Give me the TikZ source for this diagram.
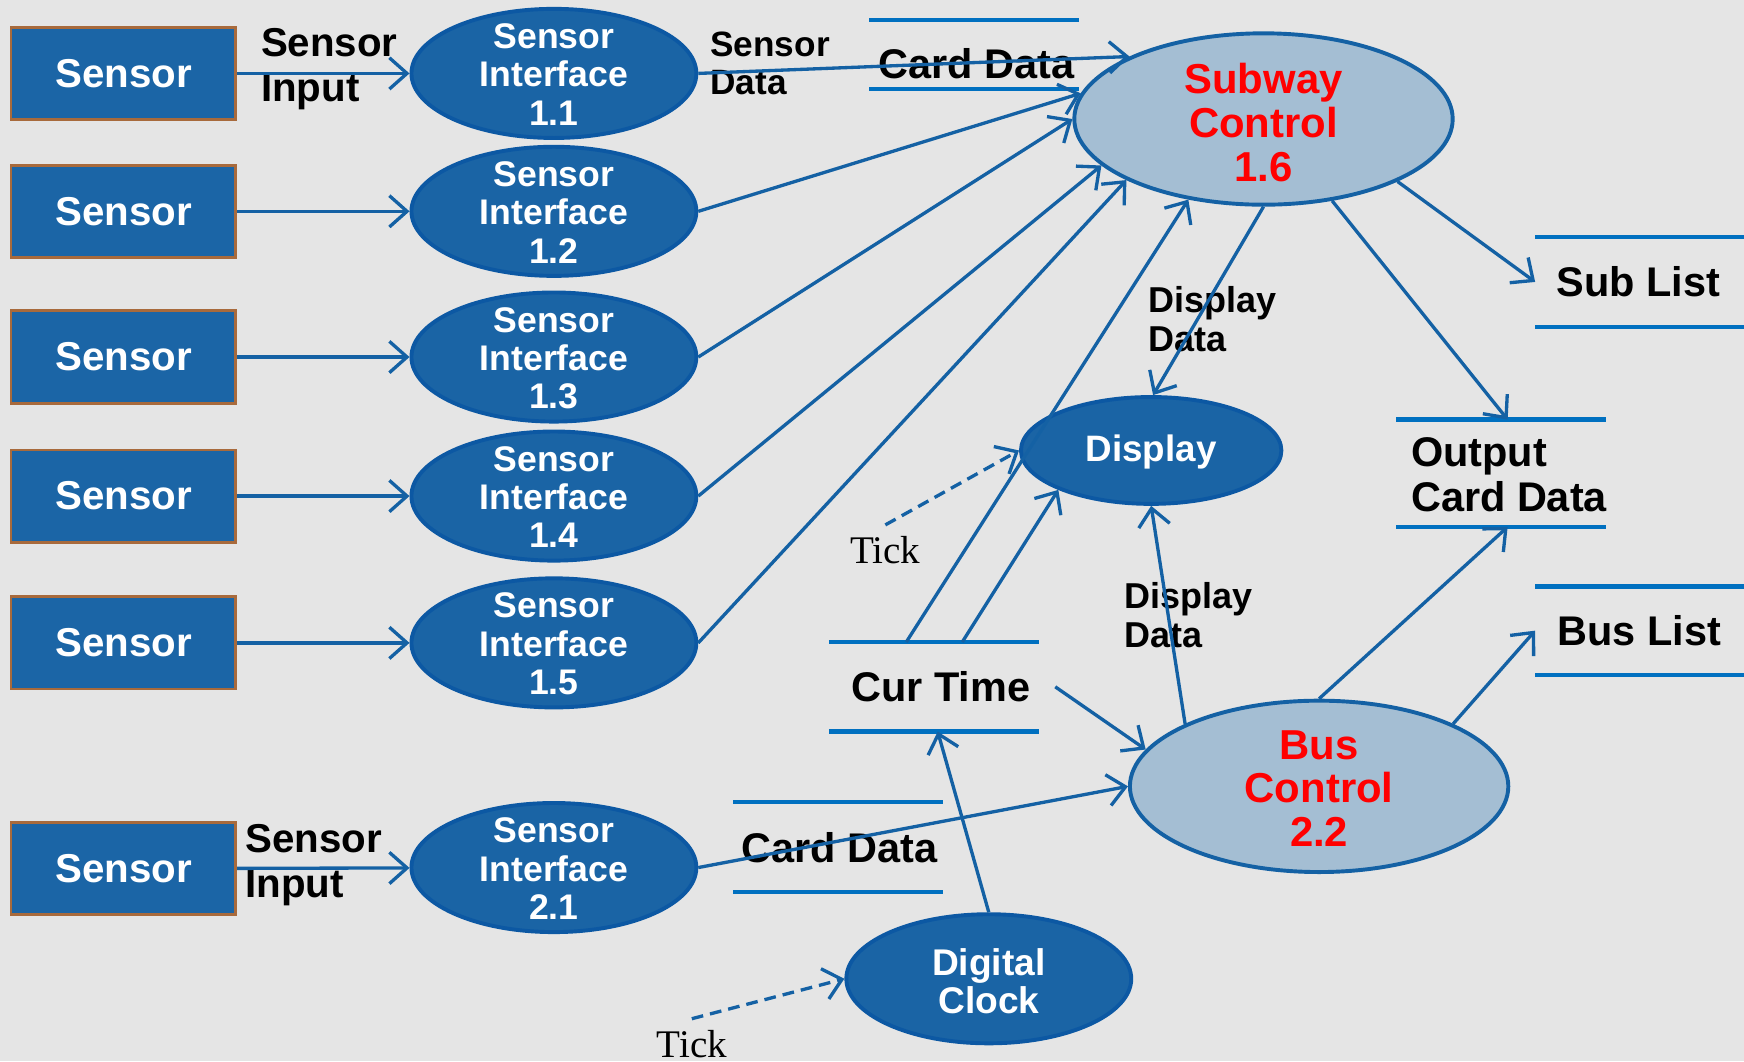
\documentclass[tikz,border=0pt]{standalone}
\usepackage{fontspec}
\setmainfont{Liberation Sans}
\newfontfamily\seriffont{Liberation Serif}
\usetikzlibrary{shapes.geometric,arrows.meta,calc}
\definecolor{bg}{RGB}{229,229,229}
\definecolor{boxblue}{RGB}{27,101,166}
\definecolor{boxedge}{RGB}{168,106,60}
\definecolor{ellblue}{RGB}{26,100,165}
\definecolor{elledge}{RGB}{12,88,163}
\definecolor{lightell}{RGB}{164,190,211}
\definecolor{linkblue}{RGB}{20,97,164}
\definecolor{storeblue}{RGB}{0,112,192}
\definecolor{redtext}{RGB}{255,0,0}
\begin{document}
\begin{tikzpicture}[x=0.01cm,y=-0.01cm,
  sensorbox/.style={draw=boxedge, line width=0.7pt, fill=boxblue, minimum width=2.02cm, minimum height=0.83cm, inner sep=0pt, text=white, font=\bfseries\fontsize{10.3}{12}\selectfont},
  proc/.style={ellipse, draw=elledge, line width=1pt, fill=ellblue, inner sep=0pt, minimum width=2.56cm, minimum height=1.16cm},
  bigproc/.style={ellipse, draw=linkblue, line width=1pt, fill=lightell, inner sep=0pt, minimum width=3.4cm, minimum height=1.54cm},
  proctext/.style={text=white, font=\bfseries\fontsize{9.1}{9.8}\selectfont, align=center, inner sep=0pt},
  redtxt/.style={text=redtext, font=\bfseries\fontsize{10.7}{11.2}\selectfont, align=center, inner sep=0pt},
  store/.style={inner sep=0pt, minimum width=1.87cm, minimum height=0.79cm},
  storeline/.style={draw=storeblue, line width=1.1pt},
  storetxt/.style={inner sep=0pt, font=\bfseries\fontsize{10.6}{11.4}\selectfont},
  flowtxt/.style={inner sep=0pt, anchor=west, align=left, font=\bfseries\fontsize{10.3}{11.4}\selectfont},
  smallflow/.style={inner sep=0pt, anchor=west, align=left, font=\bfseries\fontsize{9.2}{9.9}\selectfont},
  ticktxt/.style={inner sep=0pt, font=\seriffont\fontsize{10}{12}\selectfont},
  link/.style={draw=linkblue, line width=0.85pt, -{Straight Barb[length=4.5pt,width=8pt]}},
  tickline/.style={link, dash pattern=on 3pt off 1.8pt}
]
\fill[bg] (0,0) rectangle (1568,954);
\useasboundingbox (0,0) rectangle (1568,954);

% sensor boxes
\node[sensorbox] (b1) at (111,66) {Sensor};
\node[sensorbox] (b2) at (111,190) {Sensor};
\node[sensorbox] (b3) at (111,321) {Sensor};
\node[sensorbox] (b4) at (111,446) {Sensor};
\node[sensorbox] (b5) at (111,578) {Sensor};
\node[sensorbox] (b6) at (111,781) {Sensor};

% sensor interfaces
\node[proc] (s1) at (498,66) {};
\node[proc] (s2) at (498,190) {};
\node[proc] (s3) at (498,321) {};
\node[proc] (s4) at (498,446) {};
\node[proc] (s5) at (498,578) {};
\node[proc] (s6) at (498,780) {};
\node[proctext] (s1t) at (498,67) {Sensor\\Interface\\1.1};
\node[proctext] (s2t) at (498,191) {Sensor\\Interface\\1.2};
\node[proctext] (s3t) at (498,322) {Sensor\\Interface\\1.3};
\node[proctext] (s4t) at (498,447) {Sensor\\Interface\\1.4};
\node[proctext] (s5t) at (498,579) {Sensor\\Interface\\1.5};
\node[proctext] (s6t) at (498,781) {Sensor\\Interface\\2.1};

% control processes
\node[bigproc] (sc) at (1136,107) {};
\node[redtxt] (sct) at (1136,110) {Subway\\Control\\1.6};
\node[bigproc] (bc) at (1186,707) {};
\node[redtxt] (bct) at (1186,709) {Bus\\Control\\2.2};
\node[proc, minimum width=2.34cm, minimum height=0.96cm] (disp) at (1035,405) {};
\node[proctext, font=\bfseries\fontsize{9.4}{10}\selectfont] (dispt) at (1035,406) {Display};
\node[proc] (dc) at (889,880) {};
\node[proctext, font=\bfseries\fontsize{9.5}{9.7}\selectfont] (dct) at (889,882) {Digital\\Clock};

% data stores
\node[store, minimum height=0.6cm] (cd1) at (876,49) {};
\node[storetxt] (cd1t) at (878,57) {Card Data};
\node[store] (sl) at (1474.5,253.5) {};
\node[storetxt] (slt) at (1473,253) {Sub List};
\node[store, minimum height=0.95cm] (oc) at (1349.5,425.5) {};
\node[storetxt, anchor=west, align=left] (oct) at (1268,427) {Output\\Card Data};
\node[store, minimum height=0.78cm] (bl) at (1474.5,567) {};
\node[storetxt] (blt) at (1474,567) {Bus List};
\node[store] (ct) at (839.5,617.5) {};
\node[storetxt] (ctt) at (846,617) {Cur Time};
\node[store] (cd2) at (753.5,761.5) {};
\node[storetxt] (cd2t) at (755,762) {Card Data};
\foreach \s in {cd1,sl,oc,bl,ct,cd2}
  \draw[storeline] (\s.north west) -- (\s.north east) (\s.south west) -- (\s.south east);

% flow labels
\node[flowtxt] (si1) at (234,62) {Sensor\\Input};
\node[flowtxt] (si2) at (220,778) {Sensor\\Input};
\node[smallflow, font=\bfseries\fontsize{9}{9.7}\selectfont] (sd) at (638,57) {Sensor\\Data};
\node[smallflow] (dd1) at (1032,287) {Display\\Data};
\node[smallflow] (dd2) at (1010,553) {Display\\Data};
\node[ticktxt] (tk1) at (796,495) {Tick};
\node[ticktxt] (tk2) at (622,939) {Tick};

% connectors
\foreach \i in {1,...,6} \draw[link] (b\i) -- (s\i);
\draw[link] (s1.east) -- (sc.155);
\draw[link] (s2.east) -- (sc.172);
\draw[link] (s3.east) -- (sc.180);
\draw[link] (s4.east) -- (sc.196);
\draw[link] (s5.east) -- (sc.204);
\draw[link] ($(ct.north west)!0.369!(ct.north east)$) -- (sc.227);
\draw[link] ($(ct.north west)!0.636!(ct.north east)$) -- (disp.203);
\draw[link] (sc.270) -- (disp.88);
\draw[link] (sc.310) -- ([xshift=0.06cm]oc.north);
\draw[link] (sc.335) -- (sl.west);
\draw[link] (bc.155) -- (disp.south);
\draw[link] (bc.90) -- ([xshift=0.06cm]oc.south);
\draw[link] (bc.25) -- (bl.west);
\draw[link] ([xshift=0.15cm]ct.east) -- (bc.168);
\draw[link] (s6.east) -- (bc.180);
\draw[link] (dc.north) -- ($(ct.south west)!0.519!(ct.south east)$);
\draw[tickline] ([yshift=0.1cm]tk1.north) -- (disp.west);
\draw[tickline] ([yshift=0.1cm]tk2.north) -- (dc.west);
\end{tikzpicture}
\end{document}
